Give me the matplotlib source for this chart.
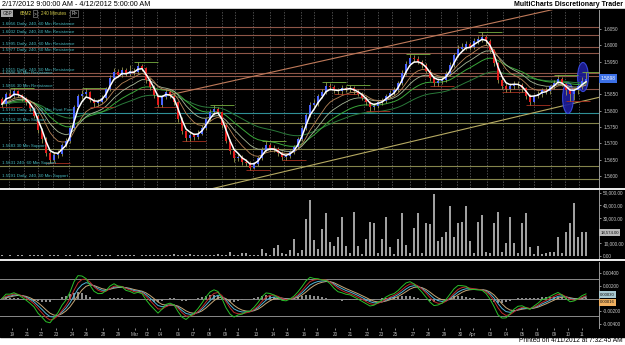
import numpy as np
import pandas as pd
import matplotlib
matplotlib.use("Agg")
import matplotlib.pyplot as plt
from matplotlib.patches import Rectangle, Ellipse
from matplotlib.lines import Line2D
from matplotlib.transforms import blended_transform_factory

plt.rcParams['font.family'] = ['Liberation Sans', 'DejaVu Sans']

# ---------------- data (prices in 1/10000) ----------------
opens = [15835,15820,15852,15845,15860,15848,15838,15826,15808,15785,
         15740,15712,15670,15650,15664,15668,15694,15706,15748,15810,
         15845,15850,15856,15834,15822,15828,15840,15866,15900,15918,
         15910,15924,15912,15922,15918,15936,15930,15894,15872,15848,
         15818,15842,15856,15846,15826,15775,15738,15716,15725,15720,
         15730,15748,15774,15795,15805,15796,15755,15708,15676,15654,
         15658,15642,15640,15626,15638,15654,15680,15694,15686,15682,
         15670,15658,15660,15672,15688,15714,15748,15788,15818,15822,
         15844,15856,15876,15872,15862,15860,15868,15866,15870,15860,
         15852,15840,15826,15810,15814,15826,15830,15846,15855,15862,
         15886,15916,15944,15960,15958,15950,15940,15922,15900,15884,
         15890,15895,15912,15940,15970,15990,15994,16003,15995,16012,
         16018,16026,16012,15985,15945,15895,15876,15866,15874,15882,
         15880,15868,15845,15828,15846,15850,15864,15860,15874,15886,
         15898,15882,15864,15852,15862,15874,15890]
highs = [15842,15858,15866,15868,15864,15852,15842,15830,15812,15790,
         15748,15718,15676,15672,15680,15700,15715,15756,15818,15852,
         15862,15868,15860,15840,15836,15848,15872,15908,15930,15926,
         15934,15930,15940,15932,15948,15944,15934,15900,15878,15852,
         15848,15866,15862,15850,15830,15780,15742,15734,15732,15740,
         15756,15782,15806,15818,15812,15800,15760,15714,15682,15668,
         15664,15652,15646,15644,15662,15688,15706,15702,15696,15688,
         15676,15668,15680,15696,15720,15756,15794,15826,15836,15850,
         15866,15888,15886,15880,15870,15878,15876,15880,15876,15866,
         15858,15846,15830,15822,15834,15840,15852,15864,15872,15892,
         15924,15952,15972,15970,15966,15956,15946,15926,15906,15900,
         15906,15920,15948,15978,16000,16006,16014,16010,16022,16030,
         16040,16032,16018,15990,15950,15902,15884,15884,15892,15890,
         15886,15872,15850,15852,15860,15870,15872,15880,15894,15908,
         15904,15886,15870,15868,15880,15902,15918]
lows = [15812,15815,15838,15840,15842,15830,15818,15800,15778,15732,
        15700,15660,15640,15644,15656,15662,15688,15700,15742,15804,
        15836,15842,15826,15812,15814,15822,15834,15860,15894,15902,
        15904,15906,15906,15908,15912,15920,15886,15864,15840,15810,
        15812,15836,15838,15818,15766,15728,15706,15708,15710,15714,
        15724,15742,15768,15788,15788,15746,15700,15668,15644,15646,
        15634,15630,15618,15620,15632,15648,15674,15678,15674,15662,
        15650,15648,15654,15666,15682,15708,15742,15782,15810,15814,
        15838,15850,15864,15854,15850,15852,15856,15858,15852,15844,
        15832,15818,15800,15802,15808,15818,15824,15840,15848,15856,
        15880,15910,15936,15948,15942,15932,15914,15890,15874,15876,
        15882,15888,15906,15934,15964,15982,15986,15986,15990,16004,
        16010,16002,15976,15936,15886,15866,15856,15858,15866,15870,
        15858,15836,15818,15822,15838,15842,15850,15852,15866,15880,
        15874,15848,15830,15834,15850,15866,15884]
closes = [15820,15852,15845,15860,15848,15838,15826,15808,15785,15740,
          15712,15670,15650,15664,15668,15694,15706,15748,15810,15845,
          15850,15856,15834,15822,15828,15840,15866,15900,15918,15910,
          15924,15912,15922,15918,15936,15930,15894,15872,15848,15818,
          15842,15856,15846,15826,15775,15738,15716,15725,15720,15730,
          15748,15774,15795,15805,15796,15755,15708,15676,15654,15658,
          15642,15640,15626,15638,15654,15680,15694,15686,15682,15670,
          15658,15660,15672,15688,15714,15748,15788,15818,15822,15844,
          15856,15876,15872,15862,15860,15868,15866,15870,15860,15852,
          15840,15826,15810,15814,15826,15830,15846,15855,15862,15886,
          15916,15944,15960,15958,15950,15940,15922,15900,15884,15890,
          15895,15912,15940,15970,15990,15994,16003,15995,16012,16018,
          16026,16012,15985,15945,15895,15876,15866,15874,15882,15880,
          15868,15845,15828,15846,15850,15864,15860,15874,15886,15898,
          15882,15864,15852,15862,15874,15890,15898]
volumes = [400,300,500,350,600,450,300,700,500,400,
           650,300,500,800,400,350,600,500,300,450,
           700,400,500,300,600,900,400,500,350,700,
           600,400,800,500,300,600,450,700,500,400,
           900,600,500,1200,700,400,800,1500,600,500,
           1100,700,400,900,1300,600,800,
           3500,600,500,2000,2500,500,700,600,5500,2500,
           800,6000,8700,2500,1500,5000,13000,2000,4700,29000,
           44000,12600,5500,21000,34000,11000,8000,15000,31000,8000,
           2000,35000,8000,1500,13000,27000,26000,2000,13000,31000,
           7000,1500,13000,34000,9000,2000,22000,34000,2000,26000,
           25000,49000,12000,15000,19000,39000,15000,26000,27000,39000,
           12000,2000,27000,32000,3000,2000,26000,35000,3000,10000,
           31000,10000,2000,26000,34000,7000,1500,8000,1500,2500,
           3000,3500,15000,2500,19000,26000,42000,15000,19000,18574]

level_prices = [1.6056, 1.6032, 1.5995, 1.5977, 1.5915, 1.5906, 1.5866,
                1.5793, 1.5762, 1.5683, 1.5631, 1.5591]
level_names = ["Daily, 240, 60 Min Resistance", "Daily, 240, 60 Min Resistance",
               "Daily, 240, 60 Min Resistance", "Daily, 240, 60 Min Resistance",
               "Daily, 240, 60 Min Resistance", "30 Min Resistance", "30 Min Resistance",
               "Daily, 240, 60 Min Pivot Point", "30 Min Support", "30 Min Support",
               "240, 60 Min Support", "Daily, 240, 60 Min Support"]
level_kinds = ["R", "R", "R", "R", "R", "R", "R", "P", "S", "S", "S", "S"]

price_ticks = [1.5600, 1.5650, 1.5700, 1.5750, 1.5800, 1.5850, 1.5950, 1.6000, 1.6050]
volume_ticks = [0, 10000, 30000, 40000, 50000]
osc_ticks = [0.004, 0.002, -0.002, -0.004]

date_ticks = [2.5, 6.25, 9.75, 13.5, 17.5, 21, 25.25, 29, 33.25, 36.25, 39.5, 44,
              47.75, 51.75, 55.75, 59, 63.5, 67.75, 71.25, 75.5, 78.75, 83.25, 87,
              91.25, 94.75, 98.25, 102.75, 106.5, 110.5, 114.5, 117.75, 122, 126,
              130, 133.75, 138, 141.5, 145]
date_labels = ["19", "21", "22", "23", "24", "26", "28", "29", "Mar", "02", "04", "06",
               "07", "08", "09", "11", "13", "14", "15", "16", "18", "20", "21",
               "22", "23", "25", "27", "28", "29", "30", "Apr", "03", "04",
               "05", "06", "09", "10", "11"]

upper_trend_x = [40, 150]
upper_trend_y = [1.5843, 1.6143]
lower_trend_x = [50, 150]
lower_trend_y = [1.5554, 1.5843]
highlight_x = [141.5, 145.25]
highlight_y = [1.5839, 1.5903]
highlight_h = [0.0095, 0.0089]

# ---------------- derived ----------------
o = np.array(opens) / 1e4
h = np.array(highs) / 1e4
l = np.array(lows) / 1e4
c = np.array(closes) / 1e4
v = np.array(volumes, dtype=float)
x = np.arange(len(c))
cs = pd.Series(c)

def ema(s, n):
    return s.ewm(span=n, adjust=False).mean()

# ---------------- figure ----------------
W, H = 625, 345
fig = plt.figure(figsize=(6.25, 3.45), dpi=100, facecolor='white')
fig.patches.append(Rectangle((0, 1 - 337 / H), 1, (337 - 9) / H, transform=fig.transFigure,
                             color='black', zorder=-5))

def box(top, bottom):
    return [0, 1 - bottom / H, 599 / W, (bottom - top) / H]

ax = fig.add_axes(box(10, 188))
axv = fig.add_axes(box(190, 259))
axo = fig.add_axes(box(262, 328))

XL = (-0.5, 149.25)
for a in (ax, axv, axo):
    a.set_facecolor('black')
    a.set_xlim(*XL)
    for s in ('top', 'left', 'bottom'):
        a.spines[s].set_visible(False)
    a.spines['right'].set_color('#9a9a9a')
    a.spines['right'].set_linewidth(0.7)
    a.yaxis.tick_right()
    a.tick_params(axis='y', colors='#c8c8c8', labelsize=3.4, length=1.5, width=0.5, pad=1.5)
    a.tick_params(axis='x', bottom=False, labelbottom=False)

# ----- main price panel -----
ax.set_ylim(1.55633, 1.61081)
ax.set_yticks(price_ticks)
ax.yaxis.set_major_formatter(plt.FuncFormatter(lambda val, p: f"{val:.4f}"))

for t in date_ticks:
    ax.axvline(t - 0.7, color='#6a6a6a', ls=(0, (2, 2)), lw=0.5, zorder=0.5)

kind_col = {"R": '#8e5648', "P": '#2f9096', "S": '#85854c'}
tb = blended_transform_factory(ax.transAxes, ax.transData)
for p, name, k in zip(level_prices, level_names, level_kinds):
    ax.axhline(p, color=kind_col[k], lw=0.8, zorder=1)
    ax.annotate(f"{p:.4f} {name}", xy=(0.003, p), xycoords=tb, xytext=(0, 0.5),
                textcoords='offset points', fontsize=3.2, color='#45b7bd',
                va='bottom', ha='left', zorder=6)

ax.plot(upper_trend_x, upper_trend_y, color='#c07a5a', lw=0.8, zorder=1.2)
ax.plot(lower_trend_x, lower_trend_y, color='#b6aa62', lw=0.8, zorder=1.2)

for hx, hy, hh in zip(highlight_x, highlight_y, highlight_h):
    ax.add_patch(Ellipse((hx, hy), 2.7, hh, fc='#1d1d9a', ec='#3c4ee6', lw=0.8,
                         alpha=0.9, zorder=2))

# moving averages
ax.plot(x, ema(cs, 40), color='#2a7a3a', lw=0.7, zorder=2.5)
ax.plot(x, ema(cs, 21), color='#3aa83a', lw=0.7, zorder=2.5)
ax.plot(x, ema(cs, 13), color='#a8b898', lw=0.6, zorder=2.5)
ax.plot(x, ema(cs, 8), color='#b88458', lw=0.6, zorder=2.5)

# swing marks
hs = pd.Series(h)
ls_ = pd.Series(l)
hmax = hs.rolling(7, center=True, min_periods=1).max()
lmin = ls_.rolling(7, center=True, min_periods=1).min()
for i in x:
    if h[i] == hmax[i]:
        ax.hlines(h[i], i - 1, i + 5, color='#78b040', lw=0.6, zorder=2.6)
    if l[i] == lmin[i]:
        ax.hlines(l[i], i - 1, i + 5, color='#a83020', lw=0.6, zorder=2.6)

# candles
up = c >= o
ax.vlines(x, l, h, color='#9a9a52', lw=0.6, zorder=3)
ax.bar(x[up], c[up] - o[up], bottom=o[up], width=0.62, color='#4a64ff', zorder=3.2, lw=0)
ax.bar(x[~up], c[~up] - o[~up], bottom=o[~up], width=0.62, color='#e41c1c', zorder=3.2, lw=0)

ax.plot(x, ema(cs, 3), color='white', lw=1.1, zorder=4)

ax.text(1.002, c[-1], f"{c[-1]:.4f}", transform=tb, fontsize=3.4, color='white',
        va='center', ha='left', zorder=8, clip_on=False,
        bbox=dict(boxstyle='square,pad=0.35', fc='#3c70e6', ec='none'))

# header inside main panel
hy = 1 - 13.5 / H
fig.text(0.004, hy, "GBP", fontsize=3.3, color='#202020', va='center',
         bbox=dict(boxstyle='square,pad=0.25', fc='#a8a8a8', ec='none'))
fig.text(0.032, hy, "6BM2", fontsize=3.3, color='#d0c848', va='center')
fig.text(0.054, hy, ">", fontsize=3.3, color='#d0d0d0', va='center',
         bbox=dict(boxstyle='square,pad=0.2', fc='black', ec='#a0a0a0', lw=0.4))
fig.text(0.066, hy, "240 Minutes", fontsize=3.3, color='#d0c848', va='center')
fig.text(0.114, hy, "R>", fontsize=3.3, color='#d0d0d0', va='center',
         bbox=dict(boxstyle='square,pad=0.2', fc='black', ec='#a0a0a0', lw=0.4))

# ----- volume panel -----
axv.set_ylim(-2400, 52000)
axv.bar(x, v, width=0.38, color='#a0a0a0', lw=0)
axv.set_yticks(volume_ticks)
axv.yaxis.set_major_formatter(plt.FuncFormatter(lambda val, p: f"{val:,.2f}"))
tbv = blended_transform_factory(axv.transAxes, axv.transData)
axv.text(1.002, v[-1], f"{v[-1]:,.2f}", transform=tbv, fontsize=3.1, color='#101010',
         va='center', ha='left', zorder=8, clip_on=False,
         bbox=dict(boxstyle='square,pad=0.3', fc='#b8b8b8', ec='none'))

# ----- oscillator panel -----
fast = ema(cs, 3) - ema(cs, 6)
fast_sig = ema(fast, 3)
slow = ema(fast, 5)
slow_sig = ema(slow, 3)
hist = slow - slow_sig

axo.set_ylim(-0.0046, 0.0057)
for lv in (0.003, 0.0, -0.0027):
    axo.axhline(lv, color='#8a8a8a', lw=0.7, zorder=1)
axo.bar(x, hist, width=0.3, color='#8c8c8c', lw=0, zorder=1.5)
axo.plot(x, slow_sig, color='#c8a878', lw=0.7, zorder=2)
axo.plot(x, slow, color='#50b4d8', lw=0.7, zorder=2.1)
axo.plot(x, fast_sig, color='#c02a2a', lw=0.7, zorder=2.2)
axo.plot(x, fast, color='#2ac02a', lw=0.7, zorder=2.3)
axo.set_yticks(osc_ticks)
axo.yaxis.set_major_formatter(plt.FuncFormatter(lambda val, p: f"{val:.5f}"))
tbo = blended_transform_factory(axo.transAxes, axo.transData)
axo.text(1.002, 0.0006, f"{slow.iloc[-1]:.5f}", transform=tbo, fontsize=3.1, color='#101010',
         va='center', ha='left', zorder=8, clip_on=False,
         bbox=dict(boxstyle='square,pad=0.3', fc='#a8c8d0', ec='none'))
axo.text(1.002, -0.0006, f"{slow_sig.iloc[-1]:.5f}", transform=tbo, fontsize=3.1, color='#101010',
         va='center', ha='left', zorder=8, clip_on=False,
         bbox=dict(boxstyle='square,pad=0.3', fc='#f0b060', ec='none'))

axo.tick_params(axis='x', bottom=True, labelbottom=True, colors='#b8b8b8', labelsize=3.3,
                length=1.5, width=0.5, pad=1.5)
axo.set_xticks(date_ticks)
axo.set_xticklabels(date_labels)

# separators
for yy in (188.5, 259.8):
    fig.add_artist(Line2D([0, 1], [1 - yy / H] * 2, color='white', lw=1.3,
                          transform=fig.transFigure))

# titles
fig.text(0.003, 1 - 4.6 / H, "2/17/2012 9:00:00 AM - 4/12/2012 5:00:00 AM",
         fontsize=5.2, color='black', va='center', ha='left')
fig.text(0.996, 1 - 4.6 / H, "MultiCharts Discretionary Trader",
         fontsize=5.0, color='black', va='center', ha='right', weight='bold')
fig.text(0.996, 1 - 341 / H, "Printed on 4/11/2012 at 7:32:45 AM",
         fontsize=4.8, color='black', va='center', ha='right')

fig.savefig('out.png', dpi=100, facecolor='white')
